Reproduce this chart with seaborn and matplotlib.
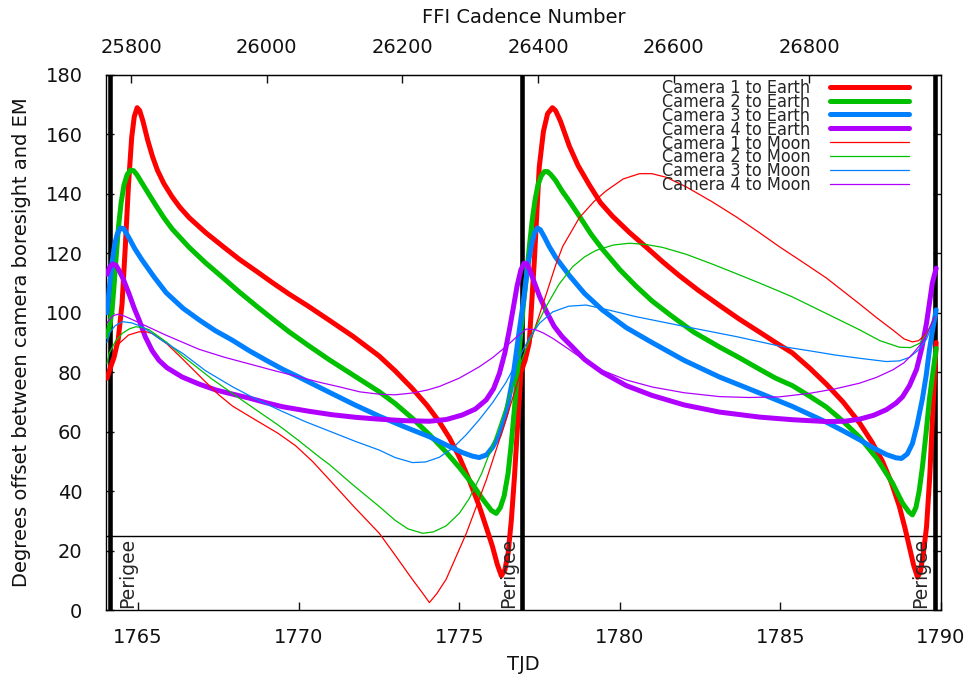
import matplotlib
matplotlib.use("Agg")
import matplotlib.pyplot as plt
import pandas as pd
import seaborn as sns

sns.set_style("ticks")
plt.rcParams['font.family'] = ['DejaVu Sans']

# ---------------- data (TJD, degrees) ----------------
cam1_earth = [(1764.03, 78), (1764.12, 81), (1764.25, 85), (1764.38, 91), (1764.50, 103), (1764.60, 122),
              (1764.70, 143), (1764.80, 159), (1764.88, 166), (1764.97, 169), (1765.05, 168), (1765.15, 164.5),
              (1765.30, 158), (1765.45, 152.5), (1765.60, 148), (1765.80, 143.5), (1766.06, 139), (1766.30, 135.5),
              (1766.59, 132), (1767.10, 127), (1767.62, 122.5), (1768.15, 118), (1768.68, 114), (1769.20, 110),
              (1769.70, 106.3), (1770.30, 102.2), (1770.95, 97.5), (1771.70, 92), (1772.50, 85.5), (1773.00, 80.5),
              (1773.54, 74.5), (1774.00, 68.8), (1774.38, 63.3), (1774.70, 57.8), (1775.00, 51.5), (1775.30, 44),
              (1775.62, 35), (1775.85, 27.5), (1776.03, 21.5), (1776.18, 15.5), (1776.31, 11.5), (1776.42, 13.5),
              (1776.52, 19), (1776.62, 30), (1776.72, 45), (1776.82, 63), (1776.92, 80), (1777.05, 84),
              (1777.18, 90), (1777.34, 118), (1777.49, 149), (1777.62, 161), (1777.75, 167), (1777.90, 169),
              (1778.00, 168), (1778.15, 164.5), (1778.43, 156), (1778.70, 149.5), (1779.05, 143), (1779.40, 137),
              (1779.77, 132.5), (1780.30, 127), (1780.83, 122), (1781.35, 117), (1781.85, 112.5), (1782.45, 107.5),
              (1783.10, 102.5), (1783.70, 98), (1784.35, 93.5), (1784.85, 90), (1785.37, 86.5), (1785.90, 81.5),
              (1786.43, 76), (1786.95, 70), (1787.46, 63), (1787.85, 56.5), (1788.18, 50), (1788.45, 43),
              (1788.70, 35), (1788.88, 27.5), (1789.02, 21), (1789.15, 15), (1789.27, 11), (1789.36, 13),
              (1789.45, 19), (1789.55, 28), (1789.65, 45), (1789.75, 68), (1789.85, 90)]
cam2_earth = [(1764.03, 92), (1764.12, 96), (1764.19, 101), (1764.25, 109), (1764.31, 118), (1764.39, 129),
              (1764.47, 137), (1764.56, 143), (1764.66, 146.5), (1764.76, 148), (1764.86, 147.8), (1764.96, 146.5),
              (1765.10, 144), (1765.30, 140.5), (1765.56, 136), (1765.80, 132), (1766.06, 128.2), (1766.59, 122),
              (1767.10, 116.8), (1767.62, 112), (1768.15, 107), (1768.68, 102.3), (1769.20, 97.8), (1769.70, 93.6),
              (1770.30, 89), (1770.95, 84.2), (1771.70, 79), (1772.50, 73.5), (1773.00, 69.5), (1773.54, 64.5),
              (1774.10, 58.7), (1774.60, 53), (1775.00, 48), (1775.40, 42.5), (1775.75, 37), (1776.00, 33.5),
              (1776.15, 32.5), (1776.28, 34.5), (1776.40, 38.5), (1776.52, 46), (1776.62, 56), (1776.72, 68),
              (1776.82, 81), (1776.92, 94), (1777.00, 103), (1777.08, 111), (1777.18, 122), (1777.27, 131),
              (1777.36, 138), (1777.45, 143), (1777.55, 146), (1777.65, 147.5), (1777.75, 147.5), (1777.85, 146.5),
              (1778.00, 144.5), (1778.20, 141), (1778.43, 137.5), (1778.80, 131.5), (1779.10, 126.5), (1779.45, 121.5),
              (1780.00, 114.5), (1780.50, 109), (1781.00, 104), (1781.60, 99), (1782.30, 93.5), (1783.10, 88.5),
              (1783.70, 85), (1784.35, 81), (1784.85, 78), (1785.37, 75.5), (1785.90, 72), (1786.43, 68.3),
              (1786.95, 63.5), (1787.46, 58.2), (1788.00, 51), (1788.49, 42.7), (1788.80, 36), (1789.00, 33),
              (1789.11, 32), (1789.22, 34.5), (1789.32, 40), (1789.42, 48), (1789.53, 59), (1789.64, 71),
              (1789.75, 80), (1789.85, 88)]
cam3_earth = [(1764.03, 100), (1764.10, 108), (1764.19, 117), (1764.27, 123), (1764.35, 126.5), (1764.45, 128.5),
              (1764.55, 128.3), (1764.70, 125.5), (1764.90, 121.5), (1765.12, 117.8), (1765.50, 112), (1765.87, 106.8),
              (1766.40, 101.5), (1766.90, 97.6), (1767.40, 94), (1767.93, 90.8), (1768.45, 87.3), (1768.99, 84),
              (1769.50, 81), (1770.00, 78.4), (1771.00, 73), (1771.75, 69), (1772.51, 65.2), (1773.30, 61.6),
              (1774.07, 58.3), (1774.60, 55.5), (1775.09, 53), (1775.40, 51.8), (1775.62, 51.3), (1775.85, 52.2),
              (1776.04, 54.8), (1776.25, 59), (1776.46, 66.2), (1776.66, 77.4), (1776.87, 94.2), (1777.00, 104),
              (1777.08, 111), (1777.17, 118), (1777.25, 123), (1777.34, 126.8), (1777.43, 128.5), (1777.52, 128),
              (1777.65, 125.5), (1777.80, 122.3), (1778.00, 118.7), (1778.43, 112.5), (1778.90, 106.5), (1779.45, 101),
              (1780.20, 95), (1781.00, 90), (1782.00, 84), (1783.10, 78.4), (1784.35, 73), (1785.37, 68.5),
              (1786.43, 63.2), (1787.00, 60), (1787.46, 57.3), (1787.90, 54.5), (1788.30, 52.3), (1788.60, 51.2),
              (1788.77, 51), (1788.95, 52.5), (1789.11, 56), (1789.25, 62), (1789.42, 71), (1789.54, 79),
              (1789.64, 87.5), (1789.75, 95), (1789.85, 101)]
cam4_earth = [(1764.03, 113), (1764.12, 115.5), (1764.22, 116.4), (1764.31, 116), (1764.42, 114), (1764.55, 111),
              (1764.72, 106.3), (1764.88, 101.5), (1765.03, 97.6), (1765.22, 92), (1765.44, 87.2), (1765.65, 84),
              (1765.90, 81.5), (1766.37, 78.4), (1766.90, 76), (1767.43, 74), (1767.95, 72.6), (1768.46, 71.3),
              (1769.00, 69.7), (1769.49, 68.4), (1770.30, 66.9), (1771.04, 65.7), (1771.80, 64.8), (1772.51, 64.2),
              (1773.30, 63.7), (1774.07, 63.5), (1774.60, 64.1), (1775.09, 65.6), (1775.50, 67.6), (1775.84, 70.7),
              (1776.07, 74.5), (1776.25, 79.6), (1776.42, 86.5), (1776.56, 94.2), (1776.68, 101.5), (1776.80, 109),
              (1776.92, 114.5), (1777.02, 116.7), (1777.10, 116.5), (1777.20, 114.3), (1777.32, 110.7), (1777.50, 105.5),
              (1777.71, 100.5), (1777.95, 95.5), (1778.20, 92), (1778.43, 89.5), (1778.90, 84.3), (1779.45, 80),
              (1780.20, 75.5), (1781.00, 72.2), (1782.00, 69), (1783.10, 66.6), (1784.35, 64.9), (1785.40, 64),
              (1786.43, 63.4), (1787.00, 63.5), (1787.46, 64.2), (1787.90, 65.5), (1788.30, 67.4), (1788.60, 69.6),
              (1788.80, 71.7), (1789.02, 75.5), (1789.24, 81), (1789.40, 88), (1789.55, 96.6), (1789.65, 104),
              (1789.73, 110), (1789.85, 115)]
cam1_moon = [(1764.03, 79), (1764.10, 82), (1764.25, 86.5), (1764.41, 89.7), (1764.70, 92.5), (1765.03, 93.6),
             (1765.25, 93.6), (1765.45, 93), (1765.90, 89.5), (1766.38, 84.5), (1767.00, 77.8), (1767.50, 72.5),
             (1767.94, 68.6), (1768.60, 64.3), (1769.35, 59.5), (1769.90, 55.3), (1770.43, 50), (1770.95, 43.9),
             (1771.70, 35), (1772.51, 25.8), (1773.00, 18.5), (1773.54, 10.3), (1773.85, 5.8), (1774.07, 2.5),
             (1774.30, 5.5), (1774.59, 10.3), (1775.22, 25.8), (1775.84, 43.7), (1776.45, 63.9), (1776.97, 82),
             (1777.30, 93), (1777.70, 106), (1778.00, 116), (1778.22, 122.3), (1778.74, 132), (1779.20, 137.5),
             (1779.57, 141), (1780.10, 145), (1780.61, 146.8), (1781.00, 146.8), (1781.44, 145.6), (1782.06, 142.4),
             (1782.85, 137.5), (1783.62, 132.3), (1784.30, 127.3), (1784.97, 122.2), (1785.70, 117), (1786.43, 111.7),
             (1787.46, 103), (1788.00, 98.3), (1788.49, 94.3), (1788.85, 91.2), (1789.11, 90.2), (1789.30, 90.6),
             (1789.50, 92.5), (1789.65, 95), (1789.80, 98.6)]
cam2_moon = [(1764.03, 83), (1764.10, 86.4), (1764.30, 90.5), (1764.51, 93.1), (1764.73, 94.6), (1764.93, 95.3),
             (1765.15, 95), (1765.34, 94.3), (1765.90, 90), (1766.38, 85.5), (1767.30, 77.7), (1768.25, 70.5),
             (1769.39, 62), (1770.00, 57), (1770.64, 51.5), (1770.95, 49), (1771.70, 42), (1772.51, 34.8),
             (1773.00, 30.2), (1773.40, 27.3), (1773.86, 25.8), (1774.20, 26.3), (1774.59, 28.3), (1775.00, 32.5),
             (1775.31, 37.5), (1775.70, 46), (1776.04, 55.5), (1776.40, 67), (1776.66, 75.5), (1777.08, 88),
             (1777.30, 93.5), (1777.70, 102), (1778.10, 109.5), (1778.53, 115.5), (1778.90, 118.8), (1779.26, 121),
             (1779.80, 122.8), (1780.30, 123.4), (1780.80, 123), (1781.33, 122), (1782.06, 119.7), (1782.85, 116.5),
             (1783.62, 113.2), (1784.35, 110), (1784.97, 107.2), (1785.38, 105.3), (1786.42, 99.8), (1787.46, 94.3),
             (1788.10, 90.6), (1788.71, 88.4), (1789.05, 88.3), (1789.33, 89.7), (1789.55, 92.8), (1789.80, 98.7)]
cam3_moon = [(1764.03, 90), (1764.10, 93.1), (1764.28, 95.6), (1764.51, 97), (1764.80, 96.6), (1765.13, 95.3),
             (1765.70, 91), (1766.38, 86.4), (1767.10, 80.5), (1767.94, 75.1), (1768.70, 70.8), (1769.45, 67),
             (1770.20, 63.4), (1771.00, 60), (1771.75, 56.8), (1772.51, 53.8), (1773.00, 51.3), (1773.54, 49.6),
             (1773.95, 49.8), (1774.38, 51.4), (1774.80, 54.5), (1775.22, 59), (1775.62, 64), (1776.04, 69.8),
             (1776.45, 76.5), (1776.87, 85), (1777.18, 91.5), (1777.50, 96.5), (1777.91, 100.3), (1778.40, 102.2),
             (1778.95, 102.6), (1779.70, 100.8), (1780.50, 98.7), (1782.06, 95.3), (1783.62, 92), (1784.97, 88.8),
             (1785.91, 87.2), (1786.70, 85.8), (1787.46, 84.7), (1788.29, 83.6), (1788.70, 83.8), (1789.02, 85),
             (1789.30, 87.5), (1789.54, 91), (1789.80, 97.6)]
cam4_moon = [(1764.03, 96.5), (1764.10, 97.6), (1764.22, 99), (1764.36, 99.5), (1764.55, 99), (1764.82, 97.7),
             (1765.30, 95.3), (1765.86, 92.5), (1766.90, 87.7), (1767.70, 85), (1768.46, 82.8), (1769.25, 80.5),
             (1770.02, 78.4), (1770.65, 76.6), (1771.26, 75.1), (1771.90, 73.4), (1772.51, 72.6), (1773.00, 72.4),
             (1773.54, 73), (1774.00, 74), (1774.38, 75.2), (1775.00, 78), (1775.62, 81.8), (1776.05, 85),
             (1776.45, 88.6), (1776.80, 92), (1777.08, 94.5), (1777.35, 94.4), (1777.60, 93.3), (1777.91, 91.4),
             (1778.43, 87.6), (1778.90, 84), (1779.46, 80.6), (1780.20, 77.4), (1781.02, 75), (1782.00, 73.1),
             (1783.10, 71.8), (1784.00, 71.5), (1784.97, 71.7), (1785.91, 72.9), (1786.70, 74.4), (1787.46, 76.3),
             (1788.00, 78.3), (1788.50, 80.8), (1788.85, 83.2), (1789.12, 86.2), (1789.35, 89.2), (1789.54, 92.2),
             (1789.80, 98.7)]

series_labels = ["Camera 1 to Earth", "Camera 2 to Earth", "Camera 3 to Earth", "Camera 4 to Earth",
                 "Camera 1 to Moon", "Camera 2 to Moon", "Camera 3 to Moon", "Camera 4 to Moon"]
series_data = [cam1_earth, cam2_earth, cam3_earth, cam4_earth, cam1_moon, cam2_moon, cam3_moon, cam4_moon]

perigee_tjd = [1764.14, 1776.95, 1789.82]
perigee_label_tjd = [1764.66, 1776.53, 1789.36]
threshold_deg = 25
x_ticks = [1765, 1770, 1775, 1780, 1785, 1790]
y_ticks = [0, 20, 40, 60, 80, 100, 120, 140, 160, 180]
cadence_ticks = [25800, 26000, 26200, 26400, 26600, 26800]
cadence_ref_tjd = 1764.782   # TJD of cadence 25800
cadence_per_day = 47.35

# ---------------- styles ----------------
colors = ["#ff0000", "#00c000", "#0080ff", "#b000ff"] * 2
widths = [3.6] * 4 + [0.9] * 4

fig = plt.figure(figsize=(9.67, 6.8), dpi=100)
ax = fig.add_axes([106 / 967, 70 / 680, 835 / 967, 535 / 680])

for t in perigee_tjd:
    ax.axvline(t, color="black", lw=3.3, zorder=1)
ax.axhline(threshold_deg, color="black", lw=1.0, zorder=1)

for data, lab, c, w in zip(series_data, series_labels, colors, widths):
    df = pd.DataFrame(data, columns=["TJD", "deg"])
    sns.lineplot(data=df, x="TJD", y="deg", ax=ax, color=c, lw=w, label=lab,
                 estimator=None, sort=False, zorder=3)

for t in perigee_label_tjd:
    ax.text(t, 0.7, "Perigee", rotation=90, ha="center", va="bottom", fontsize=13.5, zorder=4)

ax.set_xlim(1764, 1790)
ax.set_ylim(0, 180)
ax.set_xticks(x_ticks)
ax.set_yticks(y_ticks)
ax.tick_params(axis="both", direction="in", length=6, width=1, labelsize=14, colors="#111111")
ax.tick_params(axis="x", top=False, pad=13)
ax.tick_params(axis="y", right=True, labelright=False, pad=17)
for s in ax.spines.values():
    s.set_visible(True)
    s.set_linewidth(1.0)
    s.set_color("black")

ax.set_xlabel("TJD", fontsize=14, labelpad=6, color="#111111")
ax.set_ylabel("Degrees offset between camera boresight and EM", fontsize=14, labelpad=10, color="#111111")

sec = ax.secondary_xaxis("top", functions=(lambda t: (t - cadence_ref_tjd) * cadence_per_day + 25800,
                                            lambda c: (c - 25800) / cadence_per_day + cadence_ref_tjd))
sec.set_xticks(cadence_ticks)
sec.tick_params(direction="in", length=6, width=1, labelsize=14, pad=13, colors="#111111")
sec.set_xlabel("FFI Cadence Number", fontsize=14, labelpad=11, color="#111111")

h, l = ax.get_legend_handles_labels()
leg = ax.legend(h, l, loc="upper right", bbox_to_anchor=((909 - 106) / 835, (610 - 79) / 535),
                frameon=False, markerfirst=False, borderpad=0, borderaxespad=0,
                handlelength=4.4, handletextpad=1.1, labelspacing=-0.23,
                prop={"family": "DejaVu Sans", "stretch": "condensed", "size": 12.9})

fig.savefig("out.png", dpi=100)
